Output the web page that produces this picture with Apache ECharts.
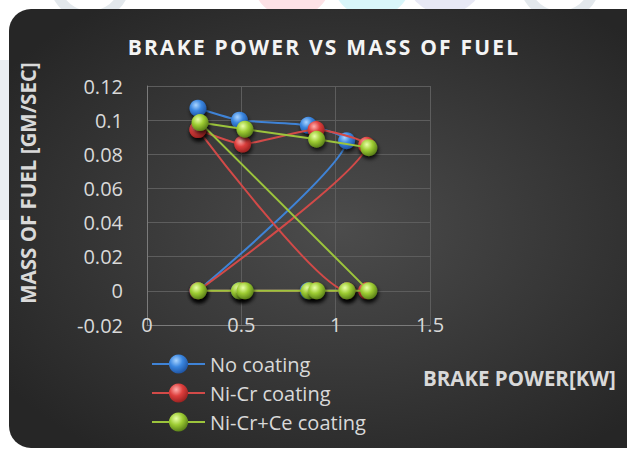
<!DOCTYPE html>
<html>
<head>
<meta charset="utf-8">
<script src="https://cdn.jsdelivr.net/npm/echarts@6/dist/echarts.min.js"></script>
<style>
html,body{margin:0;padding:0;background:#ffffff;}
#c{width:627px;height:449px;}
</style>
</head>
<body>
<div id="c"></div>
<script>
// ---- data ----
const seriesNames = ['No coating', 'Ni-Cr coating', 'Ni-Cr+Ce coating'];
const noCoatingX = [0.27, 0.49, 0.855, 1.058, 0.27, 0.49, 0.855, 1.058];
const noCoatingY = [0.107, 0.100, 0.097, 0.088, 0, 0, 0, 0];
const niCrX = [0.27, 0.507, 0.896, 1.164, 0.27, 0.507, 0.896, 1.164, 1.06, 0.27];
const niCrY = [0.0945, 0.086, 0.0945, 0.0853, 0, 0, 0, 0, 0, 0.0945];
const niCrCeX = [0.272, 0.49, 0.52, 0.86, 0.9, 1.06, 1.176, 0.281, 0.519, 0.899, 1.176];
const niCrCeY = [0, 0, 0, 0, 0, 0, 0, 0.0986, 0.0947, 0.0888, 0.0839];
const xTicks = [0, 0.5, 1, 1.5];
const yTicks = [-0.02, 0, 0.02, 0.04, 0.06, 0.08, 0.1, 0.12];
const titleText = 'BRAKE POWER VS MASS OF FUEL';
const xName = 'BRAKE POWER[KW]';
const yName = 'MASS OF FUEL [GM/SEC]';

function pairs(xs, ys){ return xs.map((x,i)=>[x, ys[i]]); }

function ball(light, mid, dark){
  return {type:'radial', x:0.38, y:0.32, r:0.75,
    colorStops:[{offset:0,color:light},{offset:0.45,color:mid},{offset:1,color:dark}]};
}
const styles = [
  {line:'#3f83d6', fill:ball('#a9d4ff','#3a86e0','#1b4c98')},
  {line:'#d24a48', fill:ball('#ffb0ae','#de3f3d','#8f1d1c')},
  {line:'#9cc43c', fill:ball('#e9ffa8','#9dcc33','#4f7314')}
];
const datas = [pairs(noCoatingX,noCoatingY), pairs(niCrX,niCrY), pairs(niCrCeX,niCrCeY)];

const textColor = '#d9d9d9';
const font = '"Open Sans", sans-serif';

const chart = echarts.init(document.getElementById('c'), null, {renderer:'svg'});
const option = {
  animation:false,
  graphic:[
    // faint watermark shapes outside the card
    {type:'circle', z:-20, shape:{cx:292,cy:-22,r:40}, style:{fill:'#fde2e6'}},
    {type:'circle', z:-20, shape:{cx:372,cy:-22,r:40}, style:{fill:'#d9f6fa'}},
    {type:'circle', z:-20, shape:{cx:445,cy:-26,r:40}, style:{fill:'#e8e9f5'}},
    {type:'circle', z:-20, shape:{cx:90,cy:-20,r:36}, style:{fill:'none', stroke:'#e3e8ec', lineWidth:10}},
    {type:'circle', z:-20, shape:{cx:560,cy:-20,r:36}, style:{fill:'none', stroke:'#e3e8ec', lineWidth:10}},
    {type:'rect', z:-20, shape:{x:0,y:60,width:9,height:160}, style:{fill:'#eaeef2'}},
    // dark card
    {type:'rect', z:-10, shape:{x:9,y:9,width:660,height:439,r:22},
      style:{fill:{type:'radial', x:0.5, y:0.5, r:0.62,
        colorStops:[{offset:0,color:'#4c4c4c'},{offset:1,color:'#262626'}]}}},
    {type:'text', z:10, x:324, y:47,
      style:{text:titleText, fill:'#f4f4f4', font:'bold 21px "Open Sans", sans-serif',
        textAlign:'center', textVerticalAlign:'middle',
        shadowColor:'rgba(0,0,0,0.7)', shadowBlur:3, shadowOffsetX:1, shadowOffsetY:1}},
    {type:'text', z:10, x:28, y:183, rotation:Math.PI/2,
      style:{text:yName, fill:textColor, font:'bold 20.5px "Open Sans", sans-serif',
        textAlign:'center', textVerticalAlign:'middle'}},
    {type:'text', z:10, x:423, y:378,
      style:{text:xName, fill:textColor, font:'bold 20.5px "Open Sans", sans-serif',
        textAlign:'left', textVerticalAlign:'middle'}}
  ],
  grid:{left:147, right:197, top:86, bottom:124, containLabel:false},
  xAxis:{type:'value', min:xTicks[0], max:xTicks[xTicks.length-1], interval:0.5,
    axisLine:{show:true, onZero:false, lineStyle:{color:'#7b7b7b', width:1}},
    axisTick:{show:false},
    splitLine:{show:true, lineStyle:{color:'#5d5d5d', width:1}},
    axisLabel:{color:textColor, fontSize:20, fontFamily:font, margin:-11,
      formatter:v=>String(+v.toFixed(2))}},
  yAxis:{type:'value', min:yTicks[0], max:yTicks[yTicks.length-1], interval:0.02,
    axisLine:{show:true, onZero:false, lineStyle:{color:'#7b7b7b', width:1}},
    axisTick:{show:false},
    splitLine:{show:true, lineStyle:{color:'#5d5d5d', width:1}},
    axisLabel:{color:textColor, fontSize:20, fontFamily:font, margin:24,
      formatter:v=>String(+v.toFixed(2))}},
  legend:{orient:'vertical', left:146, top:348, itemWidth:53, itemHeight:24, itemGap:7,
    textStyle:{color:textColor, fontSize:20, fontFamily:font, lineHeight:22},
    data:seriesNames},
  series: seriesNames.map((n,i)=>({
    name:n, type:'line', data:datas[i], smooth:0.18,
    symbol:'circle', symbolSize:17, showAllSymbol:true, clip:false,
    lineStyle:{color:styles[i].line, width:2},
    itemStyle:{color:styles[i].fill, borderWidth:0,
      shadowColor:'rgba(0,0,0,0.75)', shadowBlur:4, shadowOffsetX:1, shadowOffsetY:3},
    z:2+i
  }))
};
chart.setOption(option);
function spaceTitle(){
  document.querySelectorAll('#c text').forEach(t=>{
    if(t.textContent===titleText){ t.style.letterSpacing='2.2px'; }
  });
}
spaceTitle();
setTimeout(spaceTitle, 50);
</script>
</body>
</html>
